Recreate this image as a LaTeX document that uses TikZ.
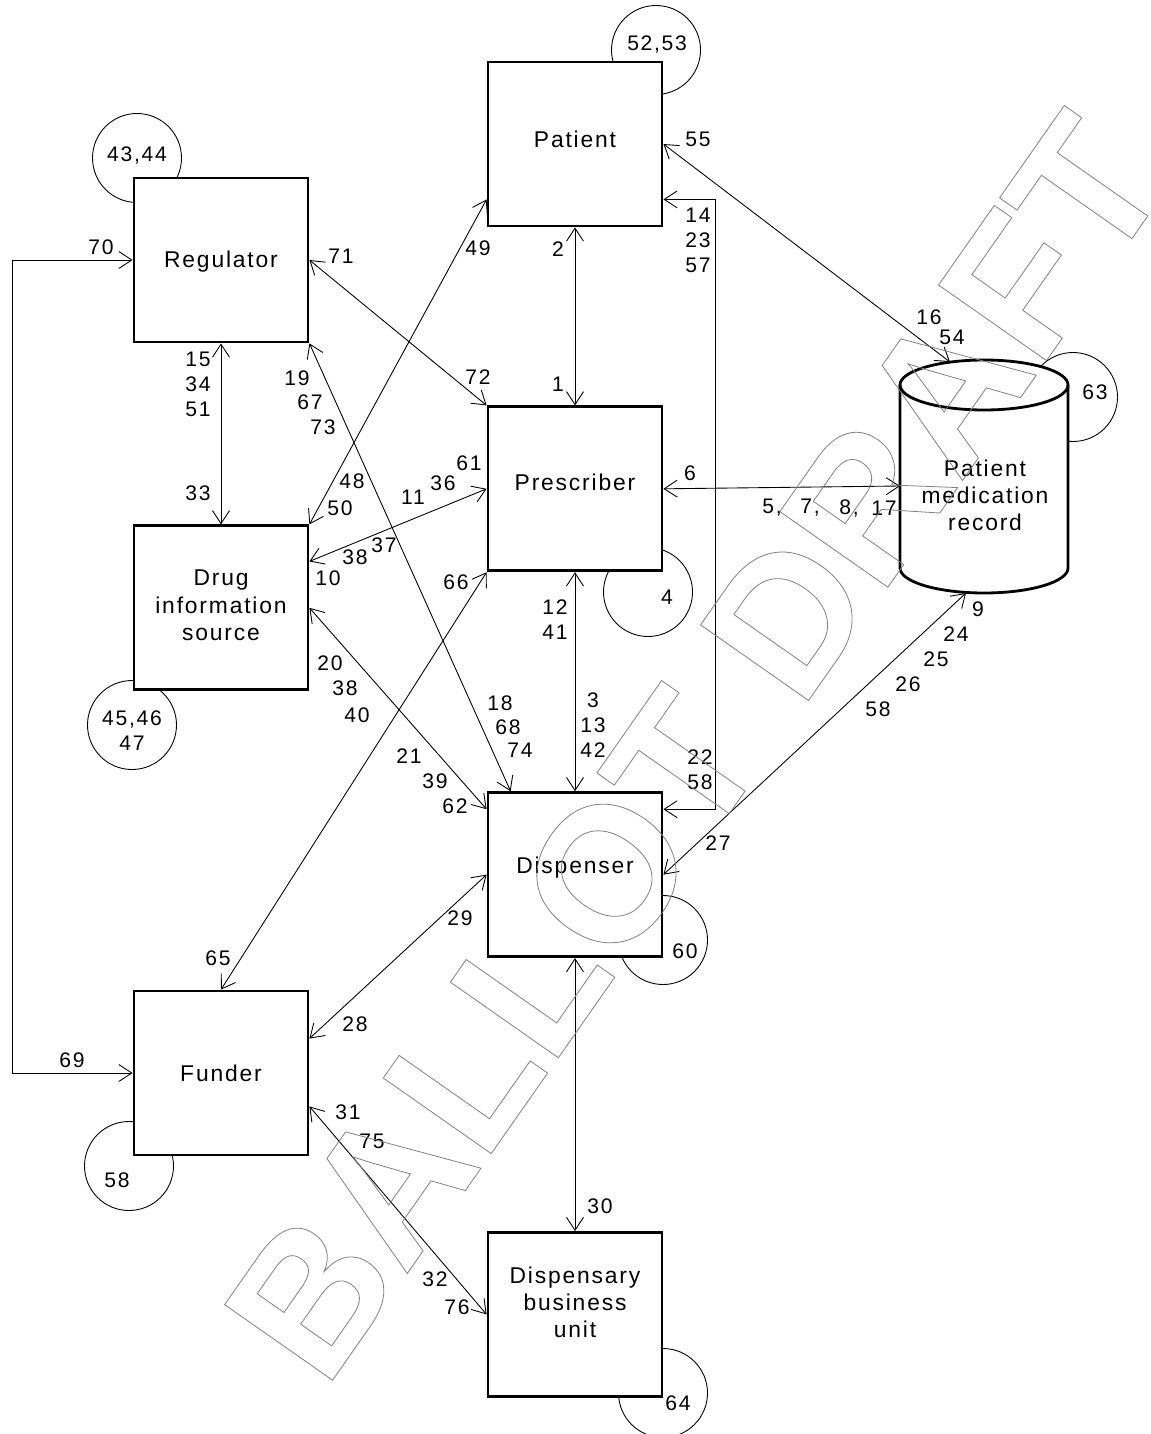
\documentclass[tikz,border=0pt]{standalone}
\usepackage{fontspec}
\setmainfont{Liberation Sans}[LetterSpace=8]
\newfontfamily\wmfamily{Liberation Sans}
\usepackage{tikz}
\usetikzlibrary{arrows.meta, positioning}
\newcommand\numsize{\fontsize{12}{14.2}\selectfont}
\newcommand\namesize{\fontsize{13}{15.4}\selectfont}
\newcommand\outlinetext[1]{\special{pdf:literal direct 1 Tr}#1\special{pdf:literal direct 0 Tr}}
\tikzset{
  actor_box/.style={rectangle, draw=black, line width=1.6pt, fill=white, minimum width=34.8mm, minimum height=32.8mm, inner sep=2pt, align=center, font=\namesize},
  lifted/.style={text depth=#1},
  loop_circle/.style={circle, draw=black, line width=0.5pt, minimum size=17.8mm, inner sep=0pt},
  num_label/.style={inner sep=0pt, align=center, font=\numsize},
  link/.style={{Straight Barb[length=2.6mm,width=3.4mm]}-{Straight Barb[length=2.6mm,width=3.4mm]}, line width=0.5pt, black},
  store_line/.style={line width=1.6pt, draw=black, fill=white},
  stamp/.style={rotate=55, anchor=base west, inner sep=0pt, text=black!50, line width=0.45pt, font=\wmfamily\bfseries\fontsize{109}{120}\selectfont}
}

\begin{document}
\begin{tikzpicture}[x=0.2mm, y=-0.2mm]
  \useasboundingbox (0,0) rectangle (1150,1434);

  % --- Loop circles (boxes are drawn over them) ---
  \node[loop_circle] (loop_pat) at (656,50) {};
  \node[loop_circle] (loop_reg) at (137,158) {};
  \node[loop_circle] (loop_dru) at (132,725) {};
  \node[loop_circle] (loop_pre) at (648,592) {};
  \node[loop_circle] (loop_pmr) at (1073,397) {};
  \node[loop_circle] (loop_dis) at (663,940) {};
  \node[loop_circle] (loop_fun) at (129,1166) {};
  \node[loop_circle] (loop_dbu) at (663,1393) {};

  % --- Main Blocks ---
  \node[actor_box, lifted=6pt] (pat) at (575,144) {Patient};
  \node[actor_box, lifted=7pt, below=35.6mm of pat] (pre) {Prescriber};
  \node[actor_box, lifted=11pt, below=43.8mm of pre] (dis) {Dispenser};
  \node[actor_box, lifted=14pt, below=54.6mm of dis] (dbu) {Dispensary\\business\\unit};
  \node[actor_box, lifted=1pt] (reg) at (221,260) {Regulator};
  \node[actor_box, lifted=3pt, below=36.2mm of reg] (dru) {Drug\\information\\source};
  \node[actor_box] (fun) at (221,1073) {Funder};

  % --- Patient medication record ---
  \path[store_line] (900,385) -- (900,568)
    arc[start angle=180, end angle=360, x radius=16.8mm, y radius=5mm] -- (1068,385)
    arc[start angle=0, end angle=180, x radius=16.8mm, y radius=5mm] -- cycle;
  \draw[line width=1.6pt] (1068,385) arc[start angle=0, end angle=-180, x radius=16.8mm, y radius=5mm];
  \node[inner sep=0pt, align=center, font=\namesize] (pmr) at (985,495) {Patient\\medication\\record};
  \coordinate (pmr_top) at (950,362);
  \coordinate (pmr_left) at (900,486);
  \coordinate (pmr_bot) at (966,593);
  \coordinate (elbow_r) at (715,0);
  \coordinate (elbow_l) at (12,0);
  \coordinate (dis_r) at ([yshift=-3.6mm]dis.north east);
  \coordinate (pat_r) at ([yshift=5.6mm]pat.south east);

  % --- Connections ---
  \draw[link] (pat.south) -- (pre.north);
  \draw[link] (pre.south) -- (dis.north);
  \draw[link] (dis.south) -- (dbu.north);
  \draw[link] (reg.south) -- (dru.north);
  \draw[link] (reg.east) -- (pre.north west);
  \draw[link] (reg.south east) -- ([xshift=4.8mm]dis.north west);
  \draw[link] ([yshift=5.6mm]pat.south west) -- (dru.north east);
  \draw[link] (pre.west) -- ([yshift=-7.4mm]dru.north east);
  \draw[link] (pre.south west) -- (fun.north);
  \draw[link] (dru.east) -- ([yshift=-3.6mm]dis.north west);
  \draw[link] (dis.west) -- ([yshift=-9.8mm]fun.north east);
  \draw[link] ([yshift=10mm]fun.south east) -- (dbu.west);
  \draw[link] (pat.east) -- (pmr_top);
  \draw[link] (pre.east) -- (pmr_left);
  \draw[link] (dis.east) -- (pmr_bot);
  \draw[link] (dis_r) -- (dis_r -| elbow_r) -- (pat_r -| elbow_r) -- (pat_r);
  \draw[link] (reg.west) -- (reg.west -| elbow_l) -- (fun.west -| elbow_l) -- (fun.west);

  % --- Loop numbers ---
  \node[num_label] (n_5253) at (657,44) {52,53};
  \node[num_label] (n_4344) at (137,155) {43,44};
  \node[num_label] (n_454647) at (132,731) {45,46\\47};
  \node[num_label] (n_4) at (667,597) {4};
  \node[num_label] (n_63) at (1095,392) {63};
  \node[num_label] (n_60) at (685,951) {60};
  \node[num_label] (n_58f) at (117,1180) {58};
  \node[num_label] (n_64) at (678,1403) {64};

  % --- Connector numbers ---
  \node[num_label] (n_55) at (698,139) {55};
  \node[num_label] (n_142357) at (698,240) {14\\23\\57};
  \node[num_label] (n_2) at (558,249) {2};
  \node[num_label] (n_1) at (558,384) {1};
  \node[num_label] (n_71) at (341,256) {71};
  \node[num_label] (n_72) at (478,377) {72};
  \node[num_label] (n_49) at (478,248) {49};
  \node[num_label] (n_19) at (297,378) {19};
  \node[num_label] (n_67) at (310,402) {67};
  \node[num_label] (n_73) at (323,427) {73};
  \node[num_label] (n_153451) at (198,384) {15\\34\\51};
  \node[num_label] (n_33) at (198,493) {33};
  \node[num_label] (n_48) at (352,481) {48};
  \node[num_label] (n_50) at (340,508) {50};
  \node[num_label] (n_61) at (469,463) {61};
  \node[num_label] (n_36) at (443,483) {36};
  \node[num_label] (n_11) at (413,497) {11};
  \node[num_label] (n_37) at (384,545) {37};
  \node[num_label] (n_38a) at (355,557) {38};
  \node[num_label] (n_10) at (328,578) {10};
  \node[num_label] (n_66) at (456,582) {66};
  \node[num_label] (n_6) at (690,473) {6};
  \node[num_label] (n_5) at (772,508) {5,};
  \node[num_label] (n_7) at (810,508) {7,};
  \node[num_label] (n_8) at (849,508) {8,};
  \node[num_label] (n_17) at (884,508) {17};
  \node[num_label] (n_16) at (929,317) {16};
  \node[num_label] (n_54) at (952,337) {54};
  \node[num_label] (n_1241) at (555,620) {12\\41};
  \node[num_label] (n_31342) at (593,725) {3\\13\\42};
  \node[num_label] (n_20) at (330,663) {20};
  \node[num_label] (n_38b) at (345,688) {38};
  \node[num_label] (n_40) at (357,715) {40};
  \node[num_label] (n_18) at (500,703) {18};
  \node[num_label] (n_68) at (508,727) {68};
  \node[num_label] (n_74) at (520,750) {74};
  \node[num_label] (n_21) at (409,756) {21};
  \node[num_label] (n_39) at (435,781) {39};
  \node[num_label] (n_62) at (455,806) {62};
  \node[num_label] (n_2258) at (700,770) {22\\58};
  \node[num_label] (n_9) at (978,609) {9};
  \node[num_label] (n_24) at (956,634) {24};
  \node[num_label] (n_25) at (936,659) {25};
  \node[num_label] (n_26) at (908,684) {26};
  \node[num_label] (n_58d) at (878,709) {58};
  \node[num_label] (n_27) at (718,843) {27};
  \node[num_label] (n_29) at (460,918) {29};
  \node[num_label] (n_65) at (218,958) {65};
  \node[num_label] (n_28) at (355,1024) {28};
  \node[num_label] (n_69) at (72,1060) {69};
  \node[num_label] (n_70) at (101,247) {70};
  \node[num_label] (n_31) at (348,1112) {31};
  \node[num_label] (n_75) at (372,1141) {75};
  \node[num_label] (n_30) at (600,1206) {30};
  \node[num_label] (n_32) at (435,1279) {32};
  \node[num_label] (n_76) at (457,1307) {76};

  % --- Draft stamp ---
  \node[stamp] (draft) at (325,1391) {\outlinetext{BALLOT DRAFT}};
\end{tikzpicture}
\end{document}
